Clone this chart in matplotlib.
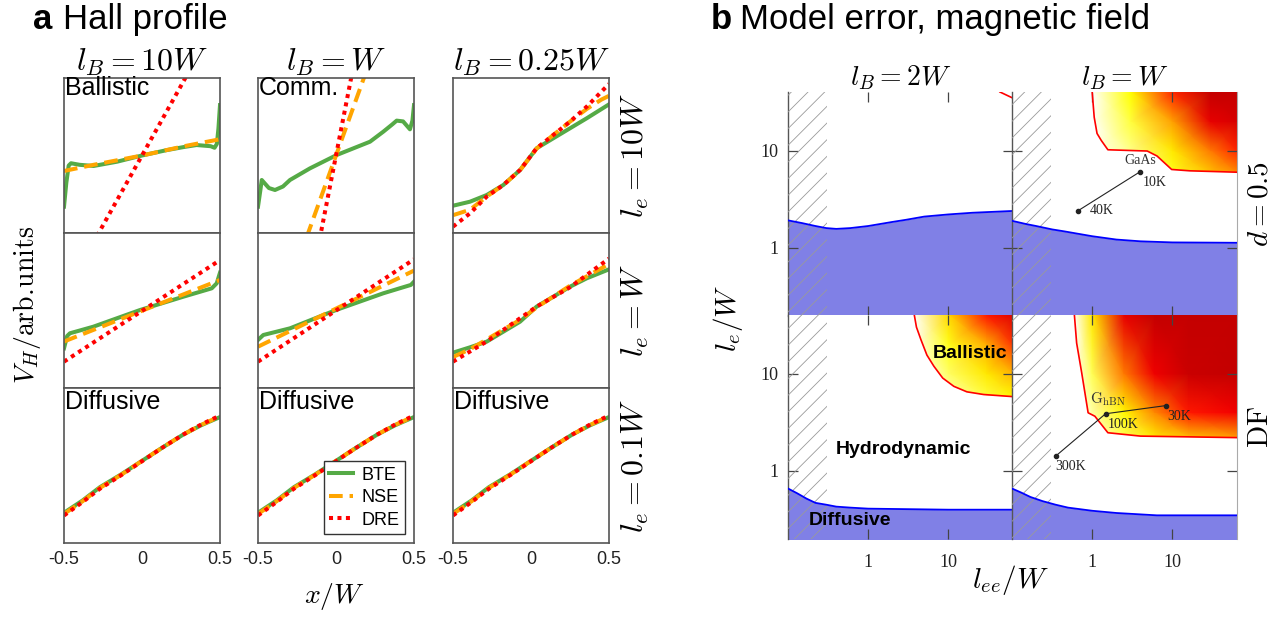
import numpy as np
import matplotlib.pyplot as plt
from matplotlib.colors import LinearSegmentedColormap
from matplotlib.patches import Polygon, Rectangle

plt.rcParams['font.family'] = ['Liberation Sans', 'DejaVu Sans']
plt.rcParams['mathtext.fontset'] = 'cm'
plt.rcParams['hatch.linewidth'] = 0.6
plt.rcParams['hatch.color'] = '#9a9a9a'

FIG_W, FIG_H = 1283, 619

# ---------------- panel a: Hall profiles ----------------
col_titles_a = [r'$l_B = 10W$', r'$l_B = W$', r'$l_B = 0.25W$']
row_titles_a = [r'$l_e = 10W$', r'$l_e = W$', r'$l_e = 0.1W$']
corner_labels = [['Ballistic', 'Comm.', ''], ['', '', ''], ['Diffusive', 'Diffusive', 'Diffusive']]
x_ticks_a = [-0.5, 0, 0.5]
x_tick_labels_a = ['-0.5', '0', '0.5']
series_names = ['BTE', 'NSE', 'DRE']

# row 0, l_e = 10W
bte_x_00 = [-0.5, -0.485, -0.47, -0.455, -0.40, -0.31, -0.16, 0.0, 0.16, 0.27, 0.35, 0.44, 0.465, 0.48, 0.49, 0.5]
bte_v_00 = [-0.66, -0.35, -0.13, -0.10, -0.12, -0.135, -0.08, 0.0, 0.07, 0.11, 0.135, 0.12, 0.10, 0.15, 0.35, 0.65]
nse_x_00 = [-0.5, -0.31, 0.0, 0.27, 0.5]
nse_v_00 = [-0.2, -0.12, 0.0, 0.12, 0.21]
dre_x_00 = [-0.5, 0.5]
dre_v_00 = [-1.8, 1.8]

bte_x_01 = [-0.5, -0.485, -0.476, -0.43, -0.391, -0.34, -0.295, -0.167, 0.004, 0.218, 0.303, 0.36, 0.389, 0.43, 0.474, 0.49, 0.5]
bte_v_01 = [-0.66, -0.45, -0.316, -0.42, -0.445, -0.40, -0.316, -0.166, 0.006, 0.178, 0.307, 0.40, 0.45, 0.44, 0.338, 0.45, 0.65]
nse_x_01 = [-0.5, 0.5]
nse_v_01 = [-2.8, 2.8]
dre_x_01 = [-0.5, 0.5]
dre_v_01 = [-5.15, 5.15]

bte_x_02 = [-0.5, -0.391, -0.284, -0.177, -0.07, 0.036, 0.143, 0.25, 0.357, 0.5]
bte_v_02 = [-0.648, -0.596, -0.51, -0.38, -0.187, 0.093, 0.222, 0.351, 0.48, 0.66]
nse_x_02 = [-0.5, -0.391, -0.284, -0.177, -0.07, 0.036, 0.143, 0.25, 0.357, 0.45, 0.5]
nse_v_02 = [-0.77, -0.70, -0.53, -0.38, -0.19, 0.09, 0.265, 0.437, 0.6, 0.72, 0.77]
dre_x_02 = [-0.5, -0.391, -0.284, -0.177, -0.07, 0.036, 0.143, 0.25, 0.357, 0.5]
dre_v_02 = [-0.918, -0.746, -0.531, -0.38, -0.187, 0.093, 0.265, 0.437, 0.63, 0.923]

# row 1, l_e = W
bte_x_10 = [-0.5, -0.48, -0.462, -0.312, -0.013, 0.265, 0.447, 0.479, 0.5]
bte_v_10 = [-0.488, -0.33, -0.294, -0.209, 0.006, 0.178, 0.286, 0.351, 0.488]
nse_x_10 = [-0.5, 0.5]
nse_v_10 = [-0.40, 0.394]
dre_x_10 = [-0.5, 0.5]
dre_v_10 = [-0.66, 0.65]

bte_x_11 = [-0.5, -0.466, -0.295, 0.0, 0.303, 0.442, 0.48, 0.5]
bte_v_11 = [-0.38, -0.316, -0.23, 0.006, 0.222, 0.307, 0.33, 0.372]
nse_x_11 = [-0.5, 0.5]
nse_v_11 = [-0.467, 0.515]
dre_x_11 = [-0.5, 0.5]
dre_v_11 = [-0.66, 0.66]

bte_x_12 = [-0.5, -0.391, -0.284, -0.07, 0.036, 0.143, 0.25, 0.357, 0.5]
bte_v_12 = [-0.544, -0.475, -0.402, -0.144, 0.05, 0.178, 0.307, 0.415, 0.531]
nse_x_12 = [-0.5, -0.391, -0.07, 0.036, 0.25, 0.5]
nse_v_12 = [-0.6, -0.5, -0.12, 0.04, 0.32, 0.6]
dre_x_12 = [-0.5, -0.284, -0.07, 0.036, 0.25, 0.5]
dre_v_12 = [-0.66, -0.40, -0.1, 0.05, 0.3, 0.67]

# row 2, l_e = 0.1W (all three nearly coincide)
diff_x = [-0.5, -0.38, -0.27, -0.13, 0.0, 0.13, 0.265, 0.38, 0.5]
bte_v_2 = [-0.61, -0.45, -0.28, -0.11, 0.06, 0.23, 0.40, 0.52, 0.625]
nse_v_2 = [-0.625, -0.46, -0.29, -0.115, 0.06, 0.23, 0.40, 0.525, 0.635]
dre_v_2 = [-0.645, -0.47, -0.30, -0.12, 0.055, 0.23, 0.40, 0.53, 0.645]

curves = {
    (0, 0): [(bte_x_00, bte_v_00), (nse_x_00, nse_v_00), (dre_x_00, dre_v_00)],
    (0, 1): [(bte_x_01, bte_v_01), (nse_x_01, nse_v_01), (dre_x_01, dre_v_01)],
    (0, 2): [(bte_x_02, bte_v_02), (nse_x_02, nse_v_02), (dre_x_02, dre_v_02)],
    (1, 0): [(bte_x_10, bte_v_10), (nse_x_10, nse_v_10), (dre_x_10, dre_v_10)],
    (1, 1): [(bte_x_11, bte_v_11), (nse_x_11, nse_v_11), (dre_x_11, dre_v_11)],
    (1, 2): [(bte_x_12, bte_v_12), (nse_x_12, nse_v_12), (dre_x_12, dre_v_12)],
}
for c in range(3):
    curves[(2, c)] = [(diff_x, bte_v_2), (diff_x, nse_v_2), (diff_x, dre_v_2)]

# ---------------- panel b: model error maps ----------------
b_col_titles = [r'$l_B = 2W$', r'$l_B = W$']
b_row_titles = [r'$d = 0.5$', r'$\mathrm{DF}$']
b_ticks = [1, 10]
b_tick_labels = ['1', '10']
hatch_x = [0.1, 0.31]

blue_x_tl = [0.1, 0.15, 0.22, 0.3, 0.4, 0.6, 1, 2, 3, 5, 10, 20, 64]
blue_y_tl = [1.92, 1.8, 1.68, 1.6, 1.57, 1.6, 1.68, 1.85, 1.95, 2.1, 2.21, 2.3, 2.4]
blue_x_tr = [0.1, 0.15, 0.2, 0.317, 0.45, 0.6, 1, 2, 4, 10, 64]
blue_y_tr = [1.9, 1.76, 1.68, 1.55, 1.48, 1.42, 1.32, 1.22, 1.17, 1.14, 1.13]
blue_x_bl = [0.1, 0.13, 0.17, 0.22, 0.3, 0.4, 0.6, 1, 10, 64]
blue_y_bl = [0.66, 0.59, 0.52, 0.47, 0.45, 0.43, 0.42, 0.41, 0.40, 0.40]
blue_x_br = [0.1, 0.13, 0.17, 0.24, 0.35, 0.5, 1, 2, 6.4, 64]
blue_y_br = [0.66, 0.6, 0.54, 0.49, 0.45, 0.42, 0.39, 0.37, 0.35, 0.35]

ball_x_tl = [44, 62]
ball_y_tl = [40, 35]
ball_x_tr = [1.0, 1.06, 1.15, 1.3, 1.57, 4.86, 6.44, 9.8, 16.5, 64]
ball_y_tr = [40, 22, 15, 12.7, 10.2, 9.9, 8.8, 6.4, 6.2, 6.0]
ball_x_bl = [3.76, 4.0, 4.55, 5.4, 6.6, 8.5, 11.7, 17, 27.5, 64]
ball_y_bl = [40, 30, 22.3, 15.5, 11.9, 9.0, 7.4, 6.5, 6.1, 5.8]
ball_x_br = [0.60, 0.64, 0.74, 0.89, 1.08, 1.57, 4.0, 64]
ball_y_br = [40, 20.6, 10.2, 3.96, 3.65, 2.47, 2.28, 2.2]

# model error levels (rows follow the y nodes)
err_gx_tr = [1, 3, 10, 30, 64]
err_gy_tr = [6, 10, 20, 40]
err_z_tr = [[0.0, 0.10, 0.30, 0.48, 0.58],
            [0.0, 0.16, 0.38, 0.60, 0.70],
            [0.0, 0.25, 0.55, 0.85, 0.92],
            [0.0, 0.33, 0.70, 1.00, 1.00]]
err_gx_bl = [3.7, 10, 30, 64]
err_gy_bl = [5.8, 10, 20, 40]
err_z_bl = [[0.0, 0.10, 0.25, 0.35],
            [0.0, 0.20, 0.38, 0.50],
            [0.0, 0.30, 0.52, 0.68],
            [0.0, 0.42, 0.72, 0.88]]
err_gx_br = [0.6, 1, 2.5, 6, 16, 64]
err_gy_br = [2.2, 4, 10, 40]
err_z_br = [[0.0, 0.05, 0.22, 0.38, 0.48, 0.55],
            [0.0, 0.12, 0.35, 0.58, 0.72, 0.80],
            [0.0, 0.22, 0.60, 0.82, 0.97, 1.00],
            [0.0, 0.38, 0.85, 1.00, 1.00, 1.00]]

gaas_x = [0.66, 4.0]
gaas_y = [2.4, 6.1]
gaas_labels = ['40K', '10K']
hbn_x = [0.35, 1.47, 8.4]
hbn_y = [1.42, 3.87, 4.7]
hbn_labels = ['300K', '100K', '30K']

GREEN, ORANGE, RED = '#55aa46', '#ffa500', '#ff0000'
BLUE_FILL, BLUE_LINE = '#8080e6', '#0000ff'
err_cmap = LinearSegmentedColormap.from_list(
    'err', [(0, '#ffffff'), (0.33, '#ffff00'), (0.55, '#ffa000'), (0.75, '#ff0000'), (1.0, '#c40000')])


def rect(l, t, w, h):
    return [l / FIG_W, 1 - (t + h) / FIG_H, w / FIG_W, h / FIG_H]


def fpos(x, y):
    return x / FIG_W, 1 - y / FIG_H


fig = plt.figure(figsize=(FIG_W / 100, FIG_H / 100), dpi=100)

# ---- panel a ----
col_left_a = [64, 258, 453]
row_top_a = [78, 233, 388]
styles = [dict(color=GREEN, lw=2.9, ls='-'),
          dict(color=ORANGE, lw=2.9, ls=(0, (3.4, 1.7))),
          dict(color=RED, lw=2.9, ls=(0, (1, 1.1)))]
ax_legend = None
for r in range(3):
    for c in range(3):
        ax = fig.add_axes(rect(col_left_a[c], row_top_a[r], 156, 155))
        for (xs, vs), st, name in zip(curves[(r, c)], styles, series_names):
            ax.plot(xs, vs, label=name, **st)
        ax.set_xlim(-0.5, 0.5)
        ax.set_ylim(-1, 1)
        ax.set_yticks([])
        ax.set_xticks(x_ticks_a)
        if r == 2:
            ax.set_xticklabels(x_tick_labels_a)
        else:
            ax.set_xticklabels([])
        ax.tick_params(axis='x', length=0, pad=6, labelsize=13, labelcolor='#222')
        for s in ax.spines.values():
            s.set_color('#555')
            s.set_linewidth(1.2)
        if corner_labels[r][c]:
            ax.text(0.005, 1.01 if r == 0 else 0.985, corner_labels[r][c], transform=ax.transAxes,
                    ha='left', va='top', fontsize=18)
        if r == 2 and c == 1:
            ax_legend = ax
        if r == 0:
            ax.set_title(col_titles_a[c], fontsize=23, pad=5)
        if c == 2:
            ax.text(1.17, 0.5, row_titles_a[r], transform=ax.transAxes, rotation=90,
                    ha='center', va='center', fontsize=23)

leg = ax_legend.legend(loc='lower right', fontsize=13, handlelength=1.3, handletextpad=0.5,
                       fancybox=False, edgecolor='#333', borderaxespad=0.5, labelspacing=0.3,
                       borderpad=0.3, framealpha=1)
leg.get_frame().set_linewidth(1.0)

fig.text(*fpos(27, 305), r'$V_H/\mathrm{arb.}\!\mathrm{units}$', rotation=90, ha='center', va='center', fontsize=20)
fig.text(*fpos(334, 597), r'$x/W$', ha='center', va='center', fontsize=20)
fig.text(*fpos(33, 29), 'a', fontsize=25, fontweight='bold', va='baseline')
fig.text(*fpos(63, 29), 'Hall profile', fontsize=25, va='baseline')

# ---- panel b ----
col_left_b = [788, 1012]
row_top_b = [92, 315]
blues = {(0, 0): (blue_x_tl, blue_y_tl), (0, 1): (blue_x_tr, blue_y_tr),
         (1, 0): (blue_x_bl, blue_y_bl), (1, 1): (blue_x_br, blue_y_br)}
balls = {(0, 0): (ball_x_tl, ball_y_tl), (0, 1): (ball_x_tr, ball_y_tr),
         (1, 0): (ball_x_bl, ball_y_bl), (1, 1): (ball_x_br, ball_y_br)}
errs = {(0, 1): (err_gx_tr, err_gy_tr, err_z_tr), (1, 0): (err_gx_bl, err_gy_bl, err_z_bl),
        (1, 1): (err_gx_br, err_gy_br, err_z_br)}
axes_b = {}
for r in range(2):
    for c in range(2):
        ax = fig.add_axes(rect(col_left_b[c], row_top_b[r], 225, 224))
        axes_b[(r, c)] = ax
        ax.set_xscale('log')
        ax.set_yscale('log')
        ax.set_xlim(0.1, 64)
        ax.set_ylim(0.2, 40)
        # diffusive region
        bx, by = blues[(r, c)]
        ax.fill_between(bx, 0.05, by, color=BLUE_FILL, lw=0, zorder=1)
        ax.plot(bx, by, color=BLUE_LINE, lw=1.3, zorder=4)
        # ballistic region with model-error colouring
        kx, ky = balls[(r, c)]
        if (r, c) in errs:
            gx, gy, gz = errs[(r, c)]
            X, Y = np.meshgrid(gx, gy)
            mesh = ax.pcolormesh(X, Y, np.array(gz), shading='gouraud', cmap=err_cmap,
                                 vmin=0, vmax=1, zorder=1)
            verts = list(zip(kx, ky)) + [(1e3, ky[-1]), (1e3, 1e3), (kx[0], 1e3)]
            clip = Polygon(verts, closed=True, transform=ax.transData)
            mesh.set_clip_path(clip)
        ax.plot(kx, ky, color=RED, lw=1.2, zorder=4)
        # excluded region
        ax.add_patch(Rectangle((hatch_x[0], 0.05), hatch_x[1] - hatch_x[0], 100, facecolor='none',
                               edgecolor='#9a9a9a', lw=0, hatch='//', zorder=3))
        ax.set_xticks(b_ticks, labels=b_tick_labels if r == 1 else ['', ''],
                      fontfamily='Liberation Serif')
        ax.set_yticks(b_ticks, labels=b_tick_labels if c == 0 else ['', ''],
                      fontfamily='Liberation Serif')
        ax.minorticks_off()
        ax.tick_params(which='major', direction='in', length=7, width=0.9, color='#444',
                       top=True, right=True, labelsize=13, labelcolor='#222')
        ax.tick_params(axis='x', pad=11)
        ax.tick_params(axis='y', pad=7)
        ax.spines['top'].set_visible(False)
        ax.spines['bottom'].set_visible(False)
        ax.spines['right'].set_visible(c == 1)
        ax.spines['right'].set_color('#aaa')
        ax.spines['right'].set_linewidth(0.8)
        ax.spines['left'].set_color('#555')
        ax.spines['left'].set_linewidth(1.0)
        if r == 0:
            ax.set_title(b_col_titles[c], fontsize=20, pad=5)
        if c == 1:
            ax.text(1.1, 0.5, b_row_titles[r], transform=ax.transAxes, rotation=90,
                    ha='center', va='center', fontsize=21)

ax = axes_b[(0, 1)]
ax.plot(gaas_x, gaas_y, color='#222', lw=0.8, marker='o', ms=3, zorder=5)
ax.text(4.0, 7.9, 'GaAs', ha='center', va='center', fontsize=10, family='Liberation Serif', color='#333', zorder=5)
ax.text(0.93, 2.4, gaas_labels[0], ha='left', va='center', fontsize=10, family='Liberation Serif', color='#222', zorder=5)
ax.text(4.25, 4.67, gaas_labels[1], ha='left', va='center', fontsize=10, family='Liberation Serif', color='#222', zorder=5)

ax = axes_b[(1, 1)]
ax.plot(hbn_x, hbn_y, color='#222', lw=0.8, marker='o', ms=3, zorder=5)
ax.text(0.95, 5.42, r'$\mathrm{G_{hBN}}$', ha='left', va='center', fontsize=11, color='#333', zorder=5)
ax.text(0.345, 1.12, hbn_labels[0], ha='left', va='center', fontsize=10, family='Liberation Serif', color='#222', zorder=5)
ax.text(1.58, 3.0, hbn_labels[1], ha='left', va='center', fontsize=10, family='Liberation Serif', color='#222', zorder=5)
ax.text(8.6, 3.66, hbn_labels[2], ha='left', va='center', fontsize=10, family='Liberation Serif', color='#222', zorder=5)

ax = axes_b[(1, 0)]
ax.text(6.4, 16, 'Ballistic', ha='left', va='center', fontsize=14, fontweight='bold', zorder=5)
ax.text(0.395, 1.67, 'Hydrodynamic', ha='left', va='center', fontsize=14, fontweight='bold', zorder=5)
ax.text(0.18, 0.31, 'Diffusive', ha='left', va='center', fontsize=14, fontweight='bold', zorder=5)

fig.text(*fpos(728, 318), r'$l_e/W$', rotation=90, ha='center', va='center', fontsize=21)
fig.text(*fpos(1010, 580), r'$l_{ee}/W$', ha='center', va='center', fontsize=21)
fig.text(*fpos(711, 29), 'b', fontsize=25, fontweight='bold', va='baseline')
fig.text(*fpos(740, 29), 'Model error, magnetic field', fontsize=25, va='baseline')

fig.savefig('out.png', dpi=100)
